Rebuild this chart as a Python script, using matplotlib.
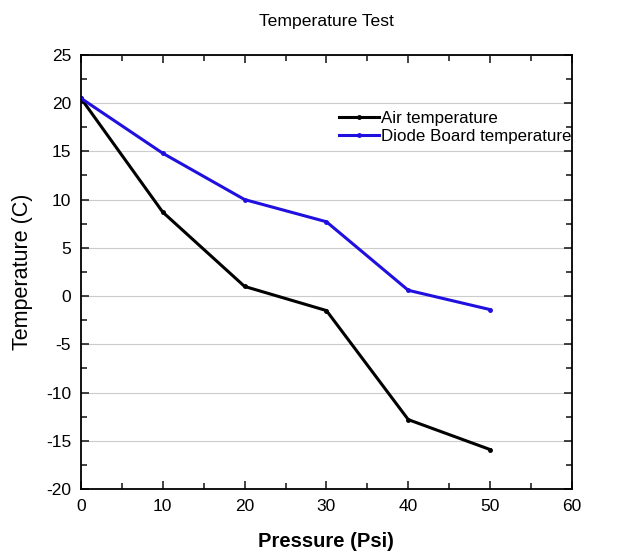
import numpy as np
import matplotlib.pyplot as plt
import matplotlib
from matplotlib.ticker import MultipleLocator

matplotlib.rcParams.update({'font.family': 'Liberation Sans', 'font.size': 12,
                            'axes.unicode_minus': False})

# Data
pressure = [0, 10, 20, 30, 40, 50]
air_temp = [20.5, 8.7, 1.0, -1.5, -12.8, -15.9]
diode_temp = [20.5, 14.8, 10.0, 7.7, 0.6, -1.4]

fig = plt.figure(figsize=(6.32, 5.59), dpi=100)
ax = fig.add_axes([0.128, 0.125, 0.777, 0.777])

ax.plot(pressure, air_temp, color='black', lw=2.2, marker='o', ms=2.5,
        label='Air temperature')
ax.plot(pressure, diode_temp, color='#2010e0', lw=2.2, marker='o', ms=2.5,
        label='Diode Board temperature')

ax.set_xlim(0, 60)
ax.set_ylim(-20, 25)
ax.xaxis.set_major_locator(MultipleLocator(10))
ax.xaxis.set_minor_locator(MultipleLocator(5))
ax.yaxis.set_major_locator(MultipleLocator(5))
ax.yaxis.set_minor_locator(MultipleLocator(2.5))
ax.tick_params(which='both', direction='in', top=True, right=True,
               labelsize=12.5, width=1.2, color='#222222')
ax.tick_params(which='major', length=6, pad=7)
ax.tick_params(which='minor', length=4)
ax.yaxis.grid(True, which='major', color='#cccccc', lw=0.8)
ax.set_axisbelow(True)
for s in ax.spines.values():
    s.set_linewidth(1.3)

ax.set_title('Temperature Test', fontsize=12.6, pad=21)
ax.set_xlabel('Pressure (Psi)', fontsize=14.5, fontweight='bold', labelpad=13)
ax.set_ylabel('Temperature (C)', fontsize=15.5, labelpad=9)

ax.legend(loc='upper left', bbox_to_anchor=(0.512, 0.887), frameon=False,
          fontsize=12.2, handlelength=2.35, handletextpad=0.15, labelspacing=0.2,
          borderaxespad=0)

fig.savefig('out.png', dpi=100)
